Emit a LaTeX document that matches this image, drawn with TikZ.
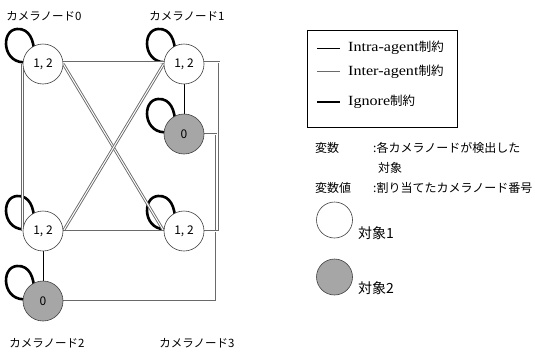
\documentclass[tikz,border=0pt]{standalone}
\usepackage{fontspec}
\setmainfont{Noto Sans CJK JP}
\newfontfamily\legendserif[FakeStretch=1.15]{Liberation Serif}
\usetikzlibrary{backgrounds}
\definecolor{objgray}{HTML}{A6A6A6}
\definecolor{intergray}{HTML}{6A6A6A}
\tikzset{
  agent/.style={circle, draw=black!75, line width=0.6pt, minimum size=40pt, inner sep=0pt, font=\fontsize{12}{12}\selectfont},
  objA/.style={agent, fill=white},
  objB/.style={agent, fill=objgray},
  legcirc/.style={circle, draw=black!75, line width=0.6pt, minimum size=36pt, inner sep=0pt},
  intra/.style={draw=black, line width=0.9pt},
  inter/.style={draw=intergray, line width=0.9pt, double=white, double distance=1pt},
  ignoreline/.style={draw=black, line width=2.6pt},
  cam/.style={font=\fontsize{11.5}{11.5}\selectfont, inner sep=0pt},
  vartxt/.style={font=\fontsize{12}{12}\selectfont, inner sep=0pt, anchor=west},
  objtxt/.style={font=\fontsize{14}{14}\selectfont, inner sep=0pt, anchor=west},
  legtxt/.style={inner sep=0pt, anchor=west},
  selfloop/.pic={\draw[ignoreline] (-15,-2) .. controls (-41,2) and (-43,-34) .. (-26,-35) .. controls (-13,-36) and (-9,-22) .. (-9,-12);}
}
\begin{document}
\begin{tikzpicture}[x=1pt,y=-1pt]
\useasboundingbox (0,0) rectangle (535,351);
% agent nodes
\node[objA] (A0) at (43,64) {1, 2};
\node[objA] (A1) at (184,64) {1, 2};
\node[objB] (B1) at (184,134) {0};
\node[objA] (C0) at (43,231) {1, 2};
\node[objB] (C1) at (43,301) {0};
\node[objA] (D0) at (184,231) {1, 2};
% camera labels
\node[cam] (L0) at (44,16) {カメラノード0};
\node[cam] (L1) at (187,16) {カメラノード1};
\node[cam] (L2) at (47,343) {カメラノード2};
\node[cam] (L3) at (197,343) {カメラノード3};
\coordinate (R1) at (219,62);
\coordinate (R2) at (216,0);
\begin{pgfonlayer}{background}
  \pic at (A0) {selfloop};
  \pic at (A1) {selfloop};
  \pic at (B1) {selfloop};
  \pic at (C0) {selfloop};
  \pic at (C1) {selfloop};
  \pic at (D0) {selfloop};
  \draw[inter] ([yshift=2pt]A0.east) -- ([yshift=2pt]A1.west);
  \draw[inter] (A0.east) -- (D0.west);
  \draw[inter] (A1.west) -- (C0.east);
  \draw[inter] (A0.west) -- (C0.west);
  \draw[inter] (C0.east) -- (D0.west);
  \draw[inter] (B1.east) -- (R2 |- B1.east) -- (R2 |- C1.east) -- (C1.east);
  \draw[inter] ([yshift=2pt]A1.east) -- (R1) -- (R1 |- D0.east) -- (D0.east);
  \draw[intra] (A1.south) -- (B1.north);
  \draw[intra] (C0.south) -- (C1.north);
\end{pgfonlayer}
% legend box
\node[draw=black, line width=0.8pt, minimum width=150pt, minimum height=97pt, inner sep=0pt] (box) at (382,78.5) {};
\coordinate (s1) at (317,48); \coordinate (e1) at (340,48);
\coordinate (s2) at (317,72); \coordinate (e2) at (340,72);
\coordinate (s3) at (317,102); \coordinate (e3) at (340,102);
\draw[intra] (s1) -- (e1);
\draw[inter] (s2) -- (e2);
\draw[ignoreline] (s3) -- (e3);
\node[legtxt] (t1) at (348,48) {{\legendserif\fontsize{14}{14}\selectfont Intra-agent}{\fontsize{12.5}{12.5}\selectfont 制約}};
\node[legtxt] (t2) at (348,72) {{\legendserif\fontsize{14}{14}\selectfont Inter-agent}{\fontsize{12.5}{12.5}\selectfont 制約}};
\node[legtxt] (t3) at (348,102) {{\legendserif\fontsize{14}{14}\selectfont Ignore}{\fontsize{12.5}{12.5}\selectfont 制約}};
% variable description
\node[vartxt] (v1) at (315,148) {変数};
\node[vartxt] (v2) at (373,148) {:各カメラノードが検出した};
\node[vartxt] (v3) at (378,168) {対象};
\node[vartxt] (v4) at (315,188) {変数値};
\node[vartxt] (v5) at (373,188) {:割り当てたカメラノード番号};
% object legend
\node[legcirc, fill=white] (o1) at (334.5,220) {};
\node[legcirc, fill=objgray] (o2) at (334.5,277) {};
\node[objtxt] (ot1) at (358,233) {対象1};
\node[objtxt] (ot2) at (358,288) {対象2};
\end{tikzpicture}
\end{document}
